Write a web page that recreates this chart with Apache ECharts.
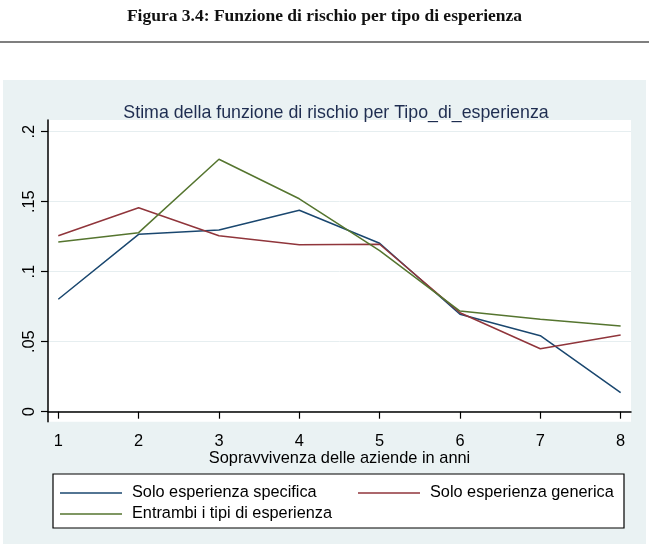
<!DOCTYPE html>
<html>
<head>
<meta charset="utf-8">
<script src="https://cdn.jsdelivr.net/npm/echarts@6/dist/echarts.min.js"></script>
<style>
html,body{margin:0;padding:0;background:#fff;}
#chart{width:649px;height:544px;}
</style>
</head>
<body>
<div id="chart"></div>
<script>
const years = [1, 2, 3, 4, 5, 6, 7, 8];
const soloSpecifica = [0.0803, 0.1267, 0.1298, 0.1439, 0.1203, 0.0696, 0.0543, 0.0136];
const soloGenerica = [0.1257, 0.1457, 0.1257, 0.1193, 0.1196, 0.0707, 0.0450, 0.0548];
const entrambi = [0.1212, 0.1279, 0.1803, 0.1521, 0.1150, 0.0719, 0.0660, 0.0612];
const yTicks = [0, 0.05, 0.1, 0.15, 0.2];
const xTicks = [1, 2, 3, 4, 5, 6, 7, 8];
const seriesNames = ['Solo esperienza specifica', 'Solo esperienza generica', 'Entrambi i tipi di esperienza'];

const pairs = arr => years.map((x, i) => [x, arr[i]]);
const font = '"Liberation Sans", Arial, sans-serif';

const chart = echarts.init(document.getElementById('chart'), null, {renderer: 'canvas'});
chart.setOption({
  animation: false,
  backgroundColor: '#ffffff',
  graphic: [
    {type: 'line', shape: {x1: 0, y1: 42, x2: 649, y2: 42}, style: {stroke: '#555', lineWidth: 1.5}, z: -10},
    {type: 'rect', shape: {x: 3, y: 80, width: 643, height: 464}, style: {fill: '#EAF2F3'}, z: -10},
    {type: 'rect', shape: {x: 53, y: 474, width: 571, height: 54}, style: {fill: '#ffffff', stroke: '#000', lineWidth: 1.2}, z: 1}
  ],
  title: [
    {text: 'Figura 3.4: Funzione di rischio per tipo di esperienza', left: 'center', top: 2,
     textStyle: {fontFamily: '"Liberation Serif", serif', fontWeight: 'bold', fontSize: 17.5, color: '#111'}},
    {text: 'Stima della funzione di rischio per Tipo_di_esperienza', left: 331, textAlign: 'center', top: 99,
     textStyle: {fontFamily: font, fontWeight: 'normal', fontSize: 17.8, color: '#1e2d50'}}
  ],
  legend: [
    {data: [seriesNames[0], seriesNames[2]], orient: 'vertical', left: 60, top: 485, itemWidth: 62, itemHeight: 1.5, itemGap: 5,
     icon: 'rect', textStyle: {fontFamily: font, fontSize: 16.3, color: '#000', padding: [0, 0, 0, 5]}, z: 5, padding: 0},
    {data: [seriesNames[1]], orient: 'vertical', left: 358, top: 485, itemWidth: 62, itemHeight: 1.5, itemGap: 5,
     icon: 'rect', textStyle: {fontFamily: font, fontSize: 16.3, color: '#000', padding: [0, 0, 0, 5]}, z: 5, padding: 0}
  ],
  grid: {left: 48, top: 120, right: 18, bottom: 122.3, show: true, backgroundColor: '#ffffff', borderWidth: 0},
  xAxis: {
    type: 'value', min: 0.872, max: 8.129,
    name: 'Sopravvivenza delle aziende in anni', nameLocation: 'middle', nameGap: 37, nameMoveOverlap: false,
    nameTextStyle: {fontFamily: font, fontSize: 16.4, color: '#000', verticalAlign: 'middle'},
    axisLine: {show: true, lineStyle: {color: '#000', width: 1.5}},
    axisTick: {show: true, length: 7, lineStyle: {color: '#000', width: 1.2}, customValues: xTicks},
    axisLabel: {fontFamily: font, fontSize: 16.4, color: '#000', margin: 12, customValues: xTicks, formatter: v => String(v)},
    splitLine: {show: false}
  },
  yAxis: {
    type: 'value', min: -0.00714, max: 0.20836,
    axisLine: {show: true, lineStyle: {color: '#000', width: 1.5}},
    axisTick: {show: true, length: 7, lineStyle: {color: '#000', width: 1.2}, customValues: yTicks},
    axisLabel: {fontFamily: font, fontSize: 16.4, color: '#000', rotate: 90, margin: 11, customValues: yTicks,
      formatter: v => v === 0 ? '0' : String(+v.toFixed(2)).replace(/^0\./, '.')},
    splitLine: {show: true, lineStyle: {color: '#E6EEF0', width: 1}}
  },
  series: [
    {name: seriesNames[0], type: 'line', data: pairs(soloSpecifica), symbol: 'none', lineStyle: {color: '#1a476f', width: 1.5}, itemStyle: {color: '#1a476f'}},
    {name: seriesNames[1], type: 'line', data: pairs(soloGenerica), symbol: 'none', lineStyle: {color: '#90353b', width: 1.5}, itemStyle: {color: '#90353b'}},
    {name: seriesNames[2], type: 'line', data: pairs(entrambi), symbol: 'none', lineStyle: {color: '#55752f', width: 1.5}, itemStyle: {color: '#55752f'}}
  ]
});
</script>
</body>
</html>
